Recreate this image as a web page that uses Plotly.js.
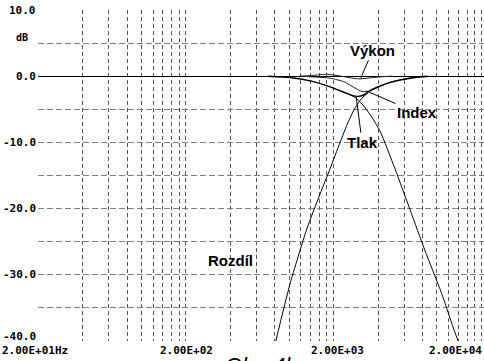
<!DOCTYPE html>
<html>
<head>
<meta charset="utf-8">
<script src="https://cdn.plot.ly/plotly-3.0.1.min.js"></script>
<style>html,body{margin:0;padding:0;background:#fff;}#chart{width:484px;height:361px;}</style>
</head>
<body>
<div id="chart"></div>
<script>
// ---- data (Hz, dB) ----
const tlakF   = [720, 1010, 1390, 1890, 2390, 2660, 2920, 3210, 3640, 4450, 5630, 7110, 8700];
const tlakDb  = [0, -0.2, -0.7, -1.6, -2.5, -2.9, -3.05, -2.8, -2.0, -1.2, -0.6, -0.2, 0];
const indexF  = [1180, 1890, 2390, 2790, 3110, 3420, 3990, 4810, 6370, 8300];
const indexDb = [0, -0.3, -0.9, -1.8, -2.3, -2.3, -1.7, -0.9, -0.3, 0];
const vykonF  = [1180, 1430, 1750, 2040, 2390, 2790, 3020, 3530, 4120, 4970];
const vykonDb = [0, 0.1, 0.3, 0.15, -0.1, -0.35, -0.4, -0.25, -0.1, 0];
const rozdilHpF  = [812, 1010, 1315, 1618, 1890, 2210, 2500, 2790, 3110, 3420];
const rozdilHpDb = [-40, -31.5, -23.1, -17.8, -14, -10, -7, -4.8, -3.3, -2.5];
const rozdilLpF  = [2500, 2790, 3110, 3530, 4120, 5200, 6580, 8310, 10500, 11700, 12650, 13890];
const rozdilLpDb = [-2.7, -3.2, -4.2, -5.8, -8.3, -14, -20.2, -26.4, -32.2, -35.2, -37.5, -40];

const xGridVals = [40,60,80,100,120,140,160,180,200,400,600,800,1000,1200,1400,1600,1800,2000,4000,6000,8000,10000,12000,14000,16000,18000,20000];
const yGridVals = [5,-5,-10,-15,-20,-25,-30,-35];
const xLabelVals = [20, 200, 2000, 20000];
const xLabelText = ['2.00E+01Hz', '2.00E+02', '2.00E+03', '2.00E+04'];
const yLabelVals = [10, 0, -10, -20, -30, -40];
const yLabelText = ['10.0', '0.0', '-10.0', '-20.0', '-30.0', '-40.0'];
const unitLabel = 'dB';
const caption = 'Obr. 4b';

const monoFont = {family: 'DejaVu Sans Mono', size: 11, color: '#000', weight: 'bold'};
const labFont = {family: 'Liberation Sans, Arial, sans-serif', size: 15, color: '#000', weight: 'bold'};

function line(x, y, w, c) {
  return {x: x, y: y, type: 'scatter', mode: 'lines', hoverinfo: 'skip',
          line: {color: c || '#000', width: w, shape: 'spline', smoothing: 0.6}};
}
const traces = [
  line(rozdilHpF, rozdilHpDb, 1),
  line(rozdilLpF, rozdilLpDb, 1),
  line(vykonF, vykonDb, 1, '#222'),
  line(indexF, indexDb, 1, '#222'),
  line(tlakF, tlakDb, 1.4)
];

const annotations = [];
xLabelVals.forEach((v, i) => {
  const first = i === 0, last = i === xLabelVals.length - 1;
  annotations.push({
    xref: 'x', x: Math.log10(v), yref: 'paper', y: 0, yanchor: 'top', yshift: -2, borderpad: 0,
    xanchor: first ? 'left' : (last ? 'right' : 'center'),
    xshift: first ? -37 : (last ? 2 : (i === 2 ? 4 : 1)),
    text: xLabelText[i], showarrow: false, font: monoFont
  });
});
yLabelVals.forEach((v, i) => {
  annotations.push({
    xref: 'paper', x: 0, xanchor: 'right', xshift: -1, yref: 'y', y: v, yanchor: 'middle',
    yshift: v === -40 ? 5 : 0, borderpad: 0,
    text: yLabelText[i], showarrow: false, font: monoFont
  });
});
annotations.push({xref: 'paper', x: 0, xshift: -16, xanchor: 'center', yref: 'y', y: 5.9,
  yanchor: 'middle', text: unitLabel, showarrow: false,
  font: {family: 'DejaVu Sans Mono', size: 10, color: '#000', weight: 'bold'}});

// curve labels with leader lines
const arrowBase = {showarrow: true, arrowhead: 0, arrowwidth: 1, arrowcolor: '#000', standoff: 0, startstandoff: 0, font: labFont, xref: 'x', yref: 'y'};
annotations.push(Object.assign({}, arrowBase, {x: Math.log10(3050), y: -0.3, ax: 12, ay: -28, text: 'Výkon'}));
annotations.push(Object.assign({}, arrowBase, {x: Math.log10(3310), y: -2.2, ax: 51, ay: 22, text: 'Index'}));
annotations.push(Object.assign({}, arrowBase, {x: Math.log10(2840), y: -3.1, ax: 6, ay: 46, text: 'Tlak'}));
annotations.push({xref: 'x', x: Math.log10(398), yref: 'y', y: -27.8, text: 'Rozdíl', showarrow: false, font: labFont});

annotations.push({xref: 'paper', x: 0.5, xanchor: 'center', yref: 'paper', y: 0, yanchor: 'top', yshift: -10,
  text: caption, showarrow: false,
  font: {family: 'Liberation Sans, Arial, sans-serif', size: 22, color: '#000', style: 'italic'}});

const layout = {
  width: 484, height: 361,
  margin: {l: 38, r: 0, t: 10, b: 20, pad: 0},
  paper_bgcolor: '#fff', plot_bgcolor: '#fff',
  showlegend: false,
  xaxis: {type: 'log', range: [1.301, 4.318], tickmode: 'array', tickvals: xGridVals,
          showticklabels: false, ticks: '', showgrid: true, gridcolor: '#555', gridwidth: 1,
          griddash: '4px,3px', zeroline: false, showline: false, fixedrange: true},
  yaxis: {range: [-40, 10], tickmode: 'array', tickvals: yGridVals, showticklabels: false, ticks: '',
          showgrid: true, gridcolor: '#808080', gridwidth: 1, griddash: '6px,3px',
          zeroline: true, zerolinecolor: '#000', zerolinewidth: 1, showline: false, fixedrange: true},
  annotations: annotations
};

Plotly.newPlot('chart', traces, layout, {staticPlot: true, displayModeBar: false});
</script>
</body>
</html>
